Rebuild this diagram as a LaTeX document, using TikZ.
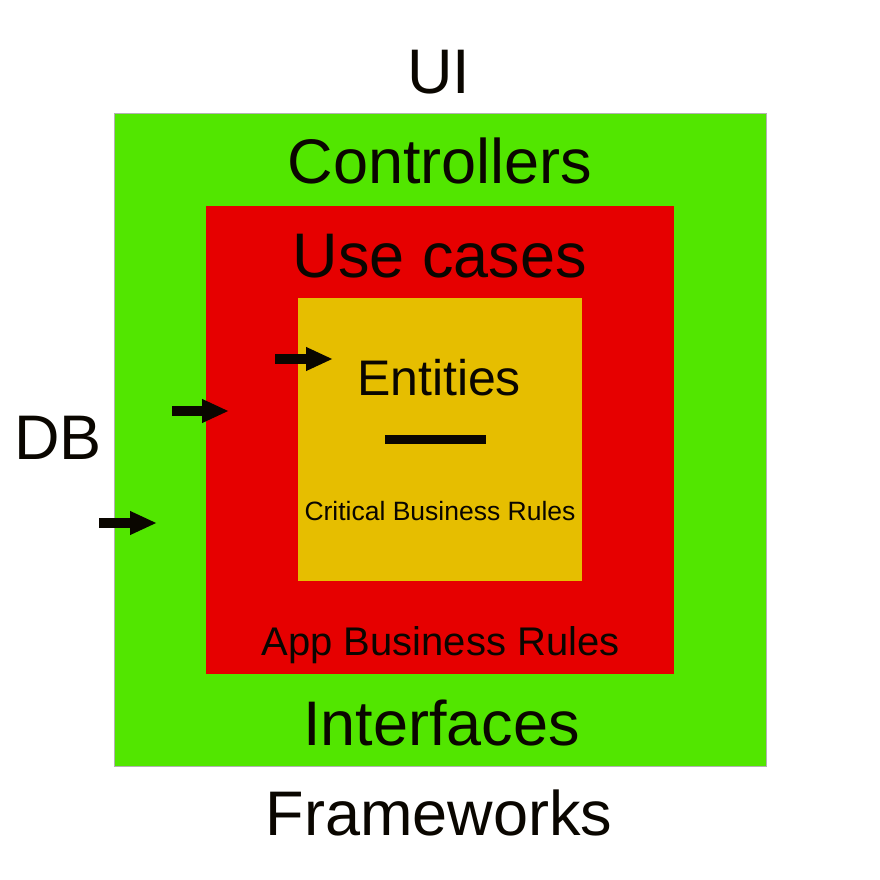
\documentclass[tikz,border=0pt]{standalone}
\usepackage{fontspec}
\setmainfont{Liberation Sans}
\usetikzlibrary{arrows.meta}
\definecolor{lgreen}{RGB}{82,230,0}
\definecolor{lred}{RGB}{230,0,0}
\definecolor{lyellow}{RGB}{230,190,0}
\definecolor{ink}{RGB}{10,6,0}
\tikzset{
  box/.style={inner sep=0pt, outer sep=0pt},
  lbl/.style={inner sep=0pt, anchor=base, text=ink},
  big/.style={lbl, font=\fontsize{63}{70}\selectfont},
  flow/.style={draw=ink, line width=10pt, -{Triangle[length=27pt,width=22pt]}},
}
\begin{document}
\begin{tikzpicture}[x=1pt,y=-1pt]
\useasboundingbox (0,0) rectangle (880,880);
\node[box, fill=lgreen, draw=black!30, line width=1pt, minimum width=652pt, minimum height=652pt] (outer) at (440,440) {};
\node[box, fill=lred, minimum width=468pt, minimum height=468pt] (mid) at (440,440) {};
\node[box, fill=lyellow, minimum width=284pt, minimum height=283pt] (inner) at (440,439.5) {};

\node[big] (ui) at (439,94) {UI};
\node[big] (ctrl) at (440,183) {Controllers};
\node[big] (uc) at (440,277) {Use cases};
\node[lbl, font=\fontsize{50}{56}\selectfont] (ent) at (439,395) {Entities};
\node[lbl, font=\fontsize{26.5}{30}\selectfont] (crit) at (440,520) {Critical Business Rules};
\node[lbl, font=\fontsize{40}{46}\selectfont] (app) at (440.5,655) {App Business Rules};
\node[big] (intf) at (441.5,745) {Interfaces};
\node[big] (fw) at (439,835) {Frameworks};
\node[big] (db) at (58,459) {DB};

\coordinate (a1s) at (99,523);  \coordinate (a1e) at (157,523);
\coordinate (a2s) at (172,411); \coordinate (a2e) at (229,411);
\coordinate (a3s) at (275,359); \coordinate (a3e) at (333,359);
\draw[flow] (a1s) -- (a1e);
\draw[flow] (a2s) -- (a2e);
\draw[flow] (a3s) -- (a3e);

\coordinate (bl) at (385,439.5); \coordinate (br) at (486,439.5);
\draw[draw=ink, line width=9pt] (bl) -- (br);
\end{tikzpicture}
\end{document}
